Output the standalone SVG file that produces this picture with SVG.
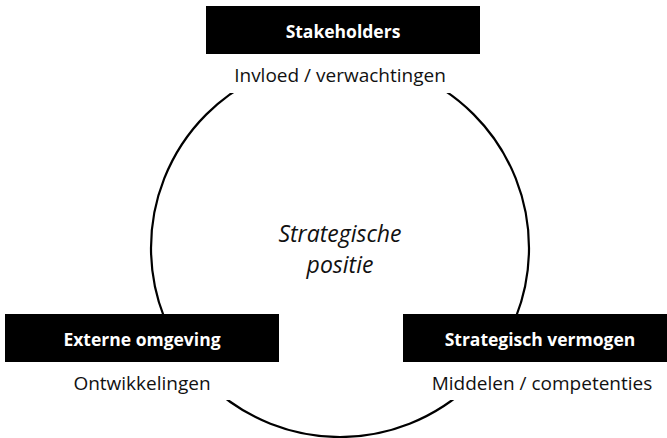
<svg xmlns="http://www.w3.org/2000/svg" width="667" height="438" viewBox="0 0 667 438">
  <style>
    .ring { fill: none; stroke: #000; stroke-width: 2.2; }
    .pad { fill: #fff; }
    .box { fill: #000; }
    .title { font-family: "Open Sans", "Noto Sans", sans-serif; font-weight: 700; font-size: 17.5px; fill: #fff; text-anchor: middle; }
    .sub { font-family: "Open Sans", "Noto Sans", sans-serif; font-size: 19px; fill: #111; text-anchor: middle; }
    .core { font-family: "Open Sans", "Noto Sans", sans-serif; font-style: italic; font-size: 23px; fill: #111; text-anchor: middle; }
  </style>

  <!-- cycle linking the three perspectives -->
  <g id="connectors">
    <circle class="ring" cx="340" cy="248" r="189"/>
  </g>

  <g id="center">
    <text class="core" x="340" y="242">Strategische</text>
    <text class="core" x="340" y="273">positie</text>
  </g>

  <g id="stakeholders">
    <rect class="pad" x="206" y="0" width="274" height="93"/>
    <rect class="box" x="206" y="6" width="274" height="48"/>
    <text class="title" x="343" y="38">Stakeholders</text>
    <text class="sub" x="340" y="82">Invloed / verwachtingen</text>
  </g>

  <g id="externe-omgeving">
    <rect class="pad" x="5" y="314" width="274" height="86"/>
    <rect class="box" x="5" y="314" width="274" height="48"/>
    <text class="title" x="142" y="346">Externe omgeving</text>
    <text class="sub" x="142" y="390">Ontwikkelingen</text>
  </g>

  <g id="strategisch-vermogen">
    <rect class="pad" x="403" y="314" width="274" height="86"/>
    <rect class="box" x="403" y="314" width="274" height="48"/>
    <text class="title" x="540" y="346">Strategisch vermogen</text>
    <text class="sub" x="542" y="390">Middelen / competenties</text>
  </g>
</svg>
